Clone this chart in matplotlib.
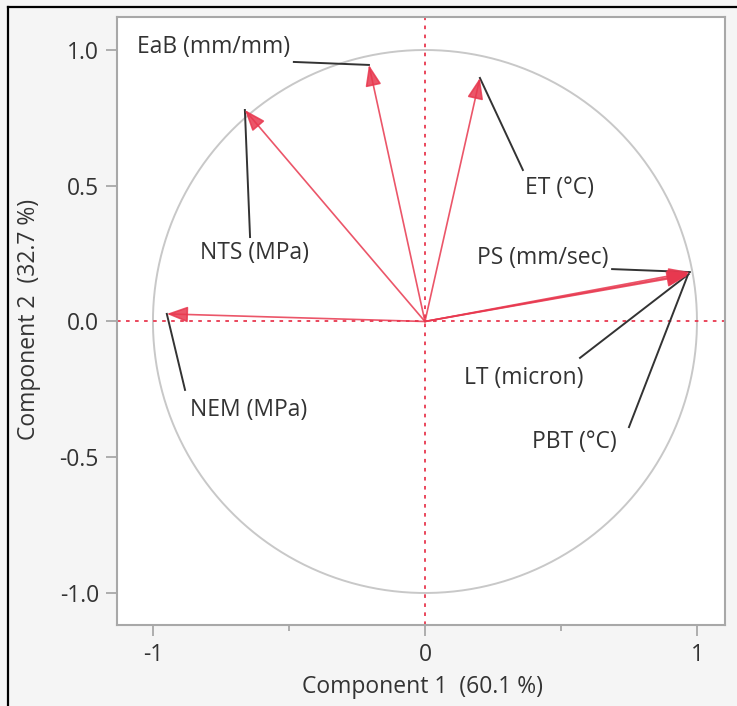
import matplotlib.pyplot as plt
import matplotlib.lines as mlines
import numpy as np

# --- loading plot data ---
variables = ["EaB (mm/mm)", "NTS (MPa)", "ET (°C)", "PS (mm/sec)",
             "LT (micron)", "PBT (°C)", "NEM (MPa)"]
comp1 = [-0.206, -0.662, 0.202, 0.974, 0.970, 0.966, -0.949]
comp2 = [0.945, 0.779, 0.897, 0.182, 0.175, 0.170, 0.028]

# label text position (left, centre) and where the leader line starts
label_x = [-1.059, -0.827, 0.368, 0.191, 0.143, 0.393, -0.864]
label_y = [1.011, 0.252, 0.492, 0.234, -0.208, -0.444, -0.326]
lead_x = [-0.482, -0.643, 0.360, 0.688, 0.570, 0.750, -0.882]
lead_y = [0.956, 0.311, 0.558, 0.193, -0.134, -0.389, -0.252]

pct1 = 60.1
pct2 = 32.7

RED = "#e8384f"
FONT = ["Open Sans", "DejaVu Sans"]
FS = 16.5

fig = plt.figure(figsize=(7.37, 7.06), dpi=100, facecolor="#f5f5f5")
ax = fig.add_axes([0.1588, 0.1147, 0.8249, 0.8612])
ax.set_facecolor("white")

# unit circle
t = np.linspace(0, 2 * np.pi, 400)
ax.plot(np.cos(t), np.sin(t), color="#c8c8c8", lw=1.4, zorder=1)

# reference cross
ax.axhline(0, color=RED, lw=1.3, ls=(0, (2, 3)), zorder=2)
ax.axvline(0, color=RED, lw=1.3, ls=(0, (2, 3)), zorder=2)

# vectors
for x, y in zip(comp1, comp2):
    ax.annotate("", xy=(x, y), xytext=(0, 0),
                arrowprops=dict(arrowstyle="-|>,head_length=1.0,head_width=0.38",
                                color=RED, lw=1.2, alpha=0.85,
                                shrinkA=0, shrinkB=0, mutation_scale=13),
                zorder=4)

# labels with leader lines
for name, tx, ty, lx, ly, x, y in zip(variables, label_x, label_y,
                                      lead_x, lead_y, comp1, comp2):
    ax.plot([lx, x], [ly, y], color="#333333", lw=1.4, zorder=3)
    ax.text(tx, ty, name, ha="left", va="center", fontsize=FS,
            color="#333333", family=FONT, zorder=5)

ax.set_xlim(-1.132, 1.103)
ax.set_ylim(-1.118, 1.1215)
ax.set_xticks([-1, 0, 1])
ax.set_xticklabels(["-1", "0", "1"])
ax.set_xticks([-0.5, 0.5], minor=True)
ax.set_yticks([-1.0, -0.5, 0.0, 0.5, 1.0])
ax.set_yticklabels(["-1.0", "-0.5", "0.0", "0.5", "1.0"])

ax.tick_params(which="major", length=8, width=1.3, color="#a8a8a8",
               labelsize=FS, labelcolor="#333333", pad=5)
ax.tick_params(which="minor", length=4, width=1.3, color="#a8a8a8")
for lab in ax.get_xticklabels() + ax.get_yticklabels():
    lab.set_family(FONT)
for s in ax.spines.values():
    s.set_color("#a8a8a8")
    s.set_linewidth(1.5)

ax.set_xlabel(f"Component 1  ({pct1} %)", fontsize=FS, color="#333333",
              family=FONT)
ax.set_ylabel(f"Component 2  ({pct2} %)", fontsize=FS, color="#333333",
              family=FONT)
ax.xaxis.set_label_coords(0.503, -0.083)
ax.yaxis.set_label_coords(-0.125, 0.502)

# outer frame of the screenshot (left and top edges)
fig.add_artist(mlines.Line2D([8 / 737, 8 / 737], [0, 1 - 7 / 706],
                             transform=fig.transFigure, color="black", lw=1.6))
fig.add_artist(mlines.Line2D([8 / 737, 1], [1 - 7 / 706, 1 - 7 / 706],
                             transform=fig.transFigure, color="black", lw=1.6))

fig.savefig("out.png", dpi=100, facecolor=fig.get_facecolor())
